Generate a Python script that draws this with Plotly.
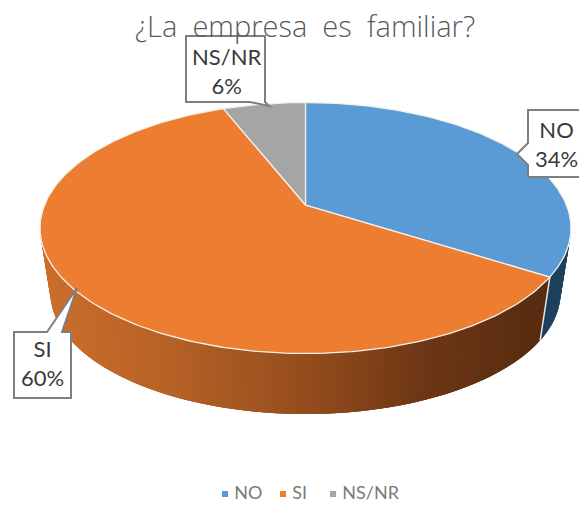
import math
import plotly.graph_objects as go

categories = ["NO", "SI", "NS/NR"]
values = [34, 60, 6]
title_text = "¿La  empresa  es  familiar?"

top_colors = ["#5B9BD5", "#ED7D31", "#A5A5A5"]
legend_colors = ["#5B9BD5", "#ED7D31", "#A5A5A5"]

W, H = 579, 505
CX, CY, RX, RY = 305.5, 228.0, 265.5, 125.5
BCX, BCY, BRX, BRY = 305.5, 293.0, 255.0, 121.0
A = 0.183  # perspective shift of the pie centre


def project(theta_deg):
    """clockwise angle from 12 o'clock -> unit-ellipse coordinates in perspective"""
    t = math.radians(theta_deg)
    u, v = math.sin(t), math.cos(t)
    d = 1 + A * v
    return u * math.sqrt(1 - A * A) / d, (v + A) / d


def top_pt(theta):
    u, v = project(theta)
    return CX + RX * u, CY - RY * v


def bot_pt(theta):
    u, v = project(theta)
    return BCX + BRX * u, BCY - BRY * v


def lerp_color(x, stops):
    for (x0, c0), (x1, c1) in zip(stops, stops[1:]):
        if x <= x1:
            f = max(0, (x - x0) / (x1 - x0))
            return "rgb(%d,%d,%d)" % tuple(round(a + (b - a) * f) for a, b in zip(c0, c1))
    return "rgb(%d,%d,%d)" % stops[-1][1]


side_stops = [
    [(40, (31, 64, 92)), (579, (31, 64, 92))],
    [(40, (204, 110, 44)), (160, (184, 98, 38)), (300, (150, 78, 30)), (430, (108, 54, 20)), (545, (88, 44, 16))],
    [(40, (110, 110, 110)), (579, (110, 110, 110))],
]

fig = go.Figure()

# slice spans from the values
total = sum(values)
spans = []
start = 0.0
for v in values:
    end = start + 360.0 * v / total
    spans.append((start, end))
    start = end

# side wall: overlapping strips so that no seams show
for i, (a0, a1) in enumerate(spans):
    n = max(2, int((a1 - a0) / 1.0))
    for k in range(n):
        t0 = a0 + (a1 - a0) * k / n
        t1 = a0 + (a1 - a0) * (k + 1) / n
        if project(t0)[1] > 0 and project(t1)[1] > 0:
            continue
        t2 = min(a1, t1 + 2 * (a1 - a0) / n)
        p0, p1, q1, q0 = top_pt(t0), top_pt(t2), bot_pt(t2), bot_pt(t0)
        col = lerp_color((top_pt(t0)[0] + top_pt(t1)[0]) / 2, side_stops[i])
        fig.add_trace(go.Scatter(
            x=[p0[0], p1[0], q1[0], q0[0], p0[0]],
            y=[p0[1], p1[1], q1[1], q0[1], p0[1]],
            mode="lines", fill="toself", fillcolor=col,
            line=dict(color=col, width=0),
            hoverinfo="skip", showlegend=False))

# divider on the wall between NO and SI
d = spans[0][1]
fig.add_trace(go.Scatter(
    x=[top_pt(d)[0], bot_pt(d)[0]], y=[top_pt(d)[1], bot_pt(d)[1]],
    mode="lines", line=dict(color="#E4E4E4", width=1.5),
    hoverinfo="skip", showlegend=False))

# top face
apex_x, apex_y = CX, CY - RY * A
for i, (a0, a1) in enumerate(spans):
    n = max(8, int((a1 - a0) / 1.0))
    pts = [top_pt(a0 + (a1 - a0) * k / n) for k in range(n + 1)]
    xs = [apex_x] + [p[0] for p in pts] + [apex_x]
    ys = [apex_y] + [p[1] for p in pts] + [apex_y]
    fig.add_trace(go.Scatter(
        x=xs, y=ys, mode="lines", fill="toself", fillcolor=top_colors[i],
        line=dict(color="#F4F1EC", width=1.3),
        text=f"{categories[i]}: {values[i]}%", hoverinfo="text", showlegend=False))

# legend row
legend_x = [225, 283, 333]
for name, col, lx in zip(categories, legend_colors, legend_x):
    fig.add_trace(go.Scatter(
        x=[lx], y=[494], mode="markers+text", name=name, text=["\u00a0" + name],
        textposition="middle right",
        textfont=dict(family="Lato, Carlito, sans-serif", size=18, color="#7A7A7A"),
        marker=dict(symbol="square", size=6, color=col),
        hoverinfo="skip", showlegend=False, cliponaxis=False))

BOX = "#7F7F7F"
callouts = [
    "M186,36 L265,36 L265,102 L269,106 L250,102 L186,102 Z",
    "M528,110 L590,110 L590,177 L528,177 L528,165 L517,154 L528,143 Z",
    "M14,332 L47,332 L77,288 L62,332 L71,332 L71,398 L14,398 Z",
]
shapes = [dict(type="path", path=p, xref="x", yref="y", fillcolor="white",
               line=dict(color=BOX, width=2), layer="above") for p in callouts]

label_pos = [(556, 143.5), (42, 362.5), (226, 70.5)]
annotations = [
    dict(x=x, y=y, xref="x", yref="y", showarrow=False, align="center",
         text=f"{c}<br>{v}%", font=dict(family="Lato, Carlito, sans-serif", size=22, color="#3A3A3A"))
    for (x, y), c, v in zip(label_pos, categories, values)
]

fig.update_layout(
    width=W, height=H, margin=dict(l=0, r=0, t=0, b=0),
    paper_bgcolor="white", plot_bgcolor="white",
    xaxis=dict(range=[0, W], visible=False, fixedrange=True),
    yaxis=dict(range=[H, 0], visible=False, fixedrange=True),
    title=dict(text=title_text, x=305 / W, xanchor="center", y=1 - 27 / H, yanchor="middle",
               font=dict(family="Open Sans, sans-serif", size=29, color="#5A5A5A", weight=300)),
    showlegend=False,
    shapes=shapes, annotations=annotations,
)

fig.write_html("out.html", config={"displayModeBar": False},
               post_script="document.body.style.margin='0';document.body.style.overflow='hidden';")
